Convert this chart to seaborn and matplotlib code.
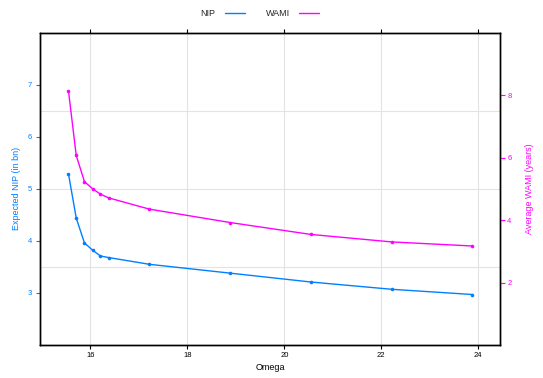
import matplotlib
matplotlib.use("Agg")
import matplotlib.pyplot as plt
import seaborn as sns
import pandas as pd
from matplotlib.lines import Line2D

omega = [15.55, 15.71, 15.88, 16.05, 16.21, 16.38, 17.22, 18.89, 20.55, 22.22, 23.88]
nip = [5.29, 4.44, 3.96, 3.82, 3.71, 3.68, 3.55, 3.38, 3.21, 3.07, 2.97]
wami = [8.14, 6.07, 5.23, 5.00, 4.83, 4.71, 4.35, 3.92, 3.54, 3.30, 3.17]
x_ticks = [16, 18, 20, 22, 24]
left_ticks = [3, 4, 5, 6, 7]
right_ticks = [2, 4, 6, 8]
hgrid = [3.5, 5.0, 6.5]

blue = "#0080FF"
magenta = "#FF00FF"

sns.set_theme(style="white")
plt.rcParams['font.family'] = ['Liberation Sans', 'DejaVu Sans']

df = pd.DataFrame({"Omega": omega, "NIP": nip, "WAMI": wami})

fig = plt.figure(figsize=(5.43, 3.78), dpi=100)
ax = fig.add_axes([39.7/543, 1-345/378, (500.3-39.7)/543, (345-32.7)/378])
ax2 = ax.twinx()

for xv in x_ticks:
    ax.axvline(xv, color="#e3e3e3", lw=0.8, zorder=0)
for yv in hgrid:
    ax.axhline(yv, color="#e3e3e3", lw=0.8, zorder=0)

sns.lineplot(data=df, x="Omega", y="NIP", ax=ax, color=blue, marker="o",
             markersize=2.6, markeredgewidth=0, lw=1.0)
sns.lineplot(data=df, x="Omega", y="WAMI", ax=ax2, color=magenta, marker="o",
             markersize=2.6, markeredgewidth=0, lw=1.0)

ax.set_xlim(14.957, 24.454)
ax.set_ylim(2, 8)
ax2.set_ylim(0, 10)

ax.set_xticks(x_ticks)
ax.set_xticklabels([str(t) for t in x_ticks])
ax.set_yticks(left_ticks)
ax.set_yticklabels([str(t) for t in left_ticks])
ax2.set_yticks(right_ticks)
ax2.set_yticklabels([str(t) for t in right_ticks])

ax.tick_params(axis="x", which="both", direction="out", length=3, width=0.8,
               labelsize=5.5, colors="black", top=True, bottom=True, pad=2)
ax.tick_params(axis="y", direction="out", length=3, width=0.8, labelsize=5.5,
               colors=blue, left=True, right=False, pad=2.5)
ax2.tick_params(axis="y", direction="out", length=3.5, width=0.8, labelsize=5.5,
                colors=magenta, right=True, left=False, pad=1.5)

ax.set_xlabel("Omega", fontsize=6.5, color="black", labelpad=3)
ax.set_ylabel("Expected NIP (in bn)", fontsize=6.5, color=blue, labelpad=5)
ax2.set_ylabel("Average WAMI (years)", fontsize=6.5, color=magenta, labelpad=9.5)

for a in (ax, ax2):
    for s in a.spines.values():
        s.set_color("black")
        s.set_linewidth(1.0)

handles = [Line2D([0], [0], color=blue, lw=1.0), Line2D([0], [0], color=magenta, lw=1.0)]
fig.legend(handles, ["NIP", "WAMI"], loc="center", bbox_to_anchor=(260/543, 1-14/378),
           ncol=2, frameon=False, markerfirst=False, fontsize=6.5, handlelength=2.2,
           columnspacing=2.4, handletextpad=1.0)

fig.savefig("out.png", dpi=100)
